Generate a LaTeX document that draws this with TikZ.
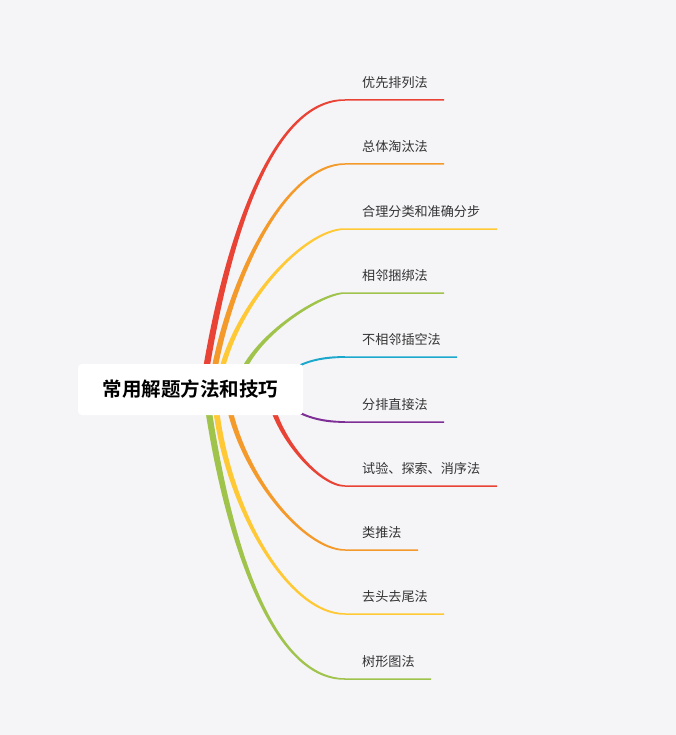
\documentclass[tikz,border=0pt]{standalone}
\usepackage{fontspec}
\setmainfont{Noto Sans CJK SC}[BoldFont={Noto Sans CJK SC Bold}]
\definecolor{pagebg}{HTML}{F5F5F8}
\definecolor{labcol}{HTML}{333333}
\definecolor{cRed}{HTML}{E94335}
\definecolor{cOrange}{HTML}{F39A2B}
\definecolor{cYellow}{HTML}{FFC935}
\definecolor{cGreen}{HTML}{A0C34C}
\definecolor{cCyan}{HTML}{1BA8CC}
\definecolor{cPurple}{HTML}{7E2F95}
% #1 colour, #2 x0, #3 c1x, #4 c1y, #5 c2x, #6 y3, #7 start width, #8 x end, #9 y0
\newcommand\mmbranch[9]{%
  \pgfmathsetmacro\mms{ifthenelse(#6<#9,1,-1)}%
  \pgfmathsetmacro\mmc{0.75+0.55*(#7/2-0.75)}%
  \fill[#1] ({#2-(\mms)*#7/2},#9) .. controls ({#3-(\mms)*#7*0.5},#4) and (#5,{#6-\mmc}) .. (345,{#6-0.75})
    -- (#8,{#6-0.75}) -- (#8,{#6+0.75}) -- (345,{#6+0.75})
    .. controls (#5,{#6+\mmc}) and ({#3+(\mms)*#7*0.5},#4) .. ({#2+(\mms)*#7/2},#9) -- cycle;%
}
\begin{document}
\begin{tikzpicture}[x=1pt,y=-1pt,
  lab/.style={anchor=west, inner sep=0pt, font=\fontsize{13.1}{15}\selectfont, text=labcol},
  rootbox/.style={fill=white, rounded corners=4pt, minimum width=225pt, minimum height=51pt,
    inner sep=0pt, font=\bfseries\fontsize{19.5}{22}\selectfont, text=black}]
\fill[pagebg] (0,0) rectangle (676,735);
\useasboundingbox (0,0) rectangle (676,735);
% branches
\mmbranch{cRed}{203}{225}{244.5}{270}{100}{6.5}{444}{389}
\mmbranch{cOrange}{211}{228}{276.5}{286.5}{164}{6}{444}{389}
\mmbranch{cYellow}{217.6}{229.6}{309}{303}{229}{5.5}{497}{389}
\mmbranch{cGreen}{237}{244.3}{341}{320}{293}{5.5}{444}{389}
\mmbranch{cCyan}{285}{300}{362}{320}{357}{4.5}{457}{375}
\mmbranch{cPurple}{285}{300}{416}{320}{422}{4.5}{444}{403}
\mmbranch{cRed}{268}{275}{437.5}{320}{486}{5.5}{497}{389}
\mmbranch{cOrange}{226}{236}{469.5}{303}{550}{5.5}{418}{389}
\mmbranch{cYellow}{214}{222}{501.5}{286.5}{614}{6}{444}{389}
\mmbranch{cGreen}{205.5}{225}{534}{270}{679}{6.5}{431}{389}
% root
\node[rootbox] (root) at (190.5,389.5) {常用解题方法和技巧};
% labels
\node[lab] (l1) at (362,82.5) {优先排列法};
\node[lab] (l2) at (362,146.5) {总体淘汰法};
\node[lab] (l3) at (362,211.5) {合理分类和准确分步};
\node[lab] (l4) at (362,275.5) {相邻捆绑法};
\node[lab] (l5) at (362,339.5) {不相邻插空法};
\node[lab] (l6) at (362,404.5) {分排直接法};
\node[lab] (l7) at (362,468.5) {试验、探索、消序法};
\node[lab] (l8) at (362,532.5) {类推法};
\node[lab] (l9) at (362,596.5) {去头去尾法};
\node[lab] (l10) at (362,661.5) {树形图法};
\end{tikzpicture}
\end{document}
